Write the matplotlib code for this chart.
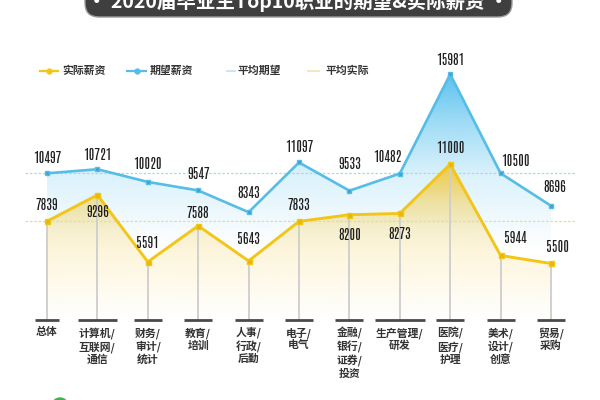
import numpy as np
import matplotlib
matplotlib.use("Agg")
import matplotlib.pyplot as plt
from matplotlib.patches import FancyBboxPatch, Circle, Polygon
from matplotlib.transforms import blended_transform_factory
from matplotlib import font_manager

# ---------------- data ----------------
categories = ["总体", "计算机/\n互联网/\n通信", "财务/\n审计/\n统计", "教育/\n培训",
              "人事/\n行政/\n后勤", "电子/\n电气", "金融/\n银行/\n证券/\n投资",
              "生产管理/\n研发", "医院/\n医疗/\n护理", "美术/\n设计/\n创意", "贸易/\n采购"]
expected = [10497, 10721, 10020, 9547, 8343, 11097, 9533, 10482, 15981, 10500, 8696]
actual = [7839, 9296, 5591, 7588, 5643, 7833, 8200, 8273, 11000, 5944, 5500]
avg_expected = 10497
avg_actual = 7839
title = "· 2020届毕业生Top10职业的期望&实际薪资 ·"
legend_labels = ["实际薪资", "期望薪资", "平均期望", "平均实际"]

# ---------------- layout (pixels) ----------------
W, H = 600, 400
x0_px, dx_px = 47.0, 50.4          # category 0 pixel x, spacing
ref_v, ref_py, k = 10497, 173.3, 0.01805   # value -> pixel mapping
base_py = 320                      # bottom of drop lines
# label offsets in pixels (dx, dy upward positive)
exp_off = [(0, 15), (0, 14), (0, 18), (0, 16), (0, 19), (0, 15), (0, 27), (-12, 17), (0, 14), (15, 12), (4, 19)]
act_off = [(0, 16), (0, -17), (0, 19), (0, 13), (0, 22), (0, 16), (0, -20), (0, -21), (0, 16), (15, 17), (7, 16)]

BLUE = "#55bde6"
YELLOW = "#f2c619"

avail = {f.name for f in font_manager.fontManager.ttflist}
NUMFONT = ["DejaVu Sans"]
for name in ["Antonio", "Oswald", "Bebas Neue", "Roboto Condensed", "Liberation Sans Narrow"]:
    if name in avail:
        NUMFONT = [name, "DejaVu Sans"]
        break
NUMWEIGHT = "bold"
CJK = ["Noto Sans CJK SC", "DejaVu Sans"]
plt.rcParams["font.family"] = CJK

fig = plt.figure(figsize=(6, 4), dpi=100)
fig.patch.set_facecolor("white")

# fit number font size so that a 5-digit label is ~28 px wide
probe = fig.text(0, 0, "10497", fontsize=10, family=NUMFONT, fontweight=NUMWEIGHT)
fig.canvas.draw()
pw = probe.get_window_extent(fig.canvas.get_renderer()).width
probe.remove()
NUMSIZE = min(11.0, 10 * 28.5 / pw)

# data axes covering the entire figure
ax = fig.add_axes([0, 0, 1, 1])
ax.set_xlim(-x0_px / dx_px, (W - x0_px) / dx_px)
ax.set_ylim(ref_v - (H - ref_py) / k, ref_v + ref_py / k)
ax.axis("off")

# overlay axes in pixel coordinates
ov = fig.add_axes([0, 0, 1, 1], zorder=5)
ov.set_xlim(0, W)
ov.set_ylim(H, 0)
ov.axis("off")
ov.patch.set_alpha(0)

x = np.arange(len(categories))
px2v = lambda py: ref_v - (py - ref_py) / k
base_v = px2v(base_py)

# ---------- gradient fills ----------
def gradient_fill(yvals, color, stops_py, stops_alpha, z):
    ymin, ymax = ax.get_ylim()
    n = 400
    pys = np.linspace(0, H, n)  # top to bottom
    alpha = np.interp(pys, stops_py, stops_alpha)
    rgb = matplotlib.colors.to_rgb(color)
    img = np.zeros((n, 1, 4))
    img[:, 0, :3] = rgb
    img[:, 0, 3] = alpha
    im = ax.imshow(img, aspect="auto", extent=[x[0], x[-1], ymin, ymax],
                   origin="upper", zorder=z, interpolation="bilinear")
    verts = [(x[0], base_v)] + list(zip(x, yvals)) + [(x[-1], base_v)]
    poly = Polygon(verts, closed=True, facecolor="none", edgecolor="none")
    ax.add_patch(poly)
    im.set_clip_path(poly)

gradient_fill(expected, "#4cbdee", [70, 120, 175, 250], [0.95, 0.55, 0.2, 0.0], 1)
gradient_fill(actual, "#f6c52a", [160, 200, 230, 320], [0.95, 0.45, 0.22, 0.0], 2)

# ---------- average lines ----------
xl = (25 - x0_px) / dx_px, (575 - x0_px) / dx_px
ax.plot(xl, [avg_expected] * 2, color="#a9d9e6", lw=0.9, ls=(0, (2, 1.5)), zorder=3)
ax.plot(xl, [avg_actual] * 2, color="#e4dc9c", lw=0.9, ls=(0, (2, 1.5)), zorder=3)

# ---------- drop lines ----------
for xi, a in zip(x, actual):
    ax.plot([xi, xi], [a, base_v], color="#cdcdcd", lw=1.3, zorder=3)

# ---------- series ----------
ax.plot(x, expected, color=BLUE, lw=1.9, marker="s", ms=3.2, mfc="#3d9fcf", mec=BLUE, zorder=6)
ax.plot(x, actual, color=YELLOW, lw=2.1, marker="s", ms=3.6, mfc="#e8b800", mec=YELLOW, zorder=6)

for xi, v, (ox, oy) in zip(x, expected, exp_off):
    ax.annotate(str(v), (xi, v), xytext=(ox, oy), textcoords="offset pixels",
                ha="center", va="center", fontsize=NUMSIZE, fontweight=NUMWEIGHT,
                family=NUMFONT, color="#1e1e1e", zorder=8)
for xi, v, (ox, oy) in zip(x, actual, act_off):
    ax.annotate(str(v), (xi, v), xytext=(ox, oy), textcoords="offset pixels",
                ha="center", va="center", fontsize=NUMSIZE, fontweight=NUMWEIGHT,
                family=NUMFONT, color="#1e1e1e", zorder=8)

# ---------- category labels and bars ----------
bt = blended_transform_factory(ax.transData, ov.transData)
texts = []
for xi, c in zip(x, categories):
    t = ov.text(xi, 327, c, transform=bt, ha="center", va="top", fontsize=7.8,
                color="#333333", linespacing=1.2, fontweight="bold")
    texts.append(t)
fig.canvas.draw()
r = fig.canvas.get_renderer()
for xi, t in zip(x, texts):
    bb = t.get_window_extent(r)
    half = (bb.width / 2 + 1) / dx_px
    ax.plot([xi - half, xi + half], [base_v, base_v], color="#4a4a4a", lw=2.0,
            solid_capstyle="butt", zorder=4)

# ---------- legend ----------
leg_y = 71
items = [(40, 58, 62, YELLOW, True), (127, 146, 150, BLUE, True),
         (227, 235, 238, "#bfe3ee", False), (308, 319, 326, "#ece5b0", False)]
for (a, b, tx, col, mk), lab in zip(items, legend_labels):
    ov.plot([a, b], [leg_y, leg_y], color=col, lw=1.6 if mk else 1.2)
    if mk:
        ov.plot([(a + b) / 2], [leg_y], marker="o", ms=3.5, color=col)
    ov.text(tx, leg_y, lab, fontsize=7.8, va="center", ha="left", color="#333333",
            fontweight="bold")

# ---------- title box ----------
box = FancyBboxPatch((85, -40), 427, 57, boxstyle="round,pad=0,rounding_size=14",
                     facecolor="#3f3f3f", edgecolor="#9a9a9a", lw=1.0, zorder=6)
ov.add_patch(box)
ov.text(298, 1, title, ha="center", va="center", fontsize=14, color="white",
        fontweight="bold", zorder=7)

# ---------- logo remnant ----------
ov.add_patch(Circle((60, 406), 8, color="#3cb44b", zorder=6))
ov.add_patch(Circle((45, 408), 6, color="#e6e6e6", zorder=5))

fig.savefig("out.png", dpi=100, facecolor="white")
